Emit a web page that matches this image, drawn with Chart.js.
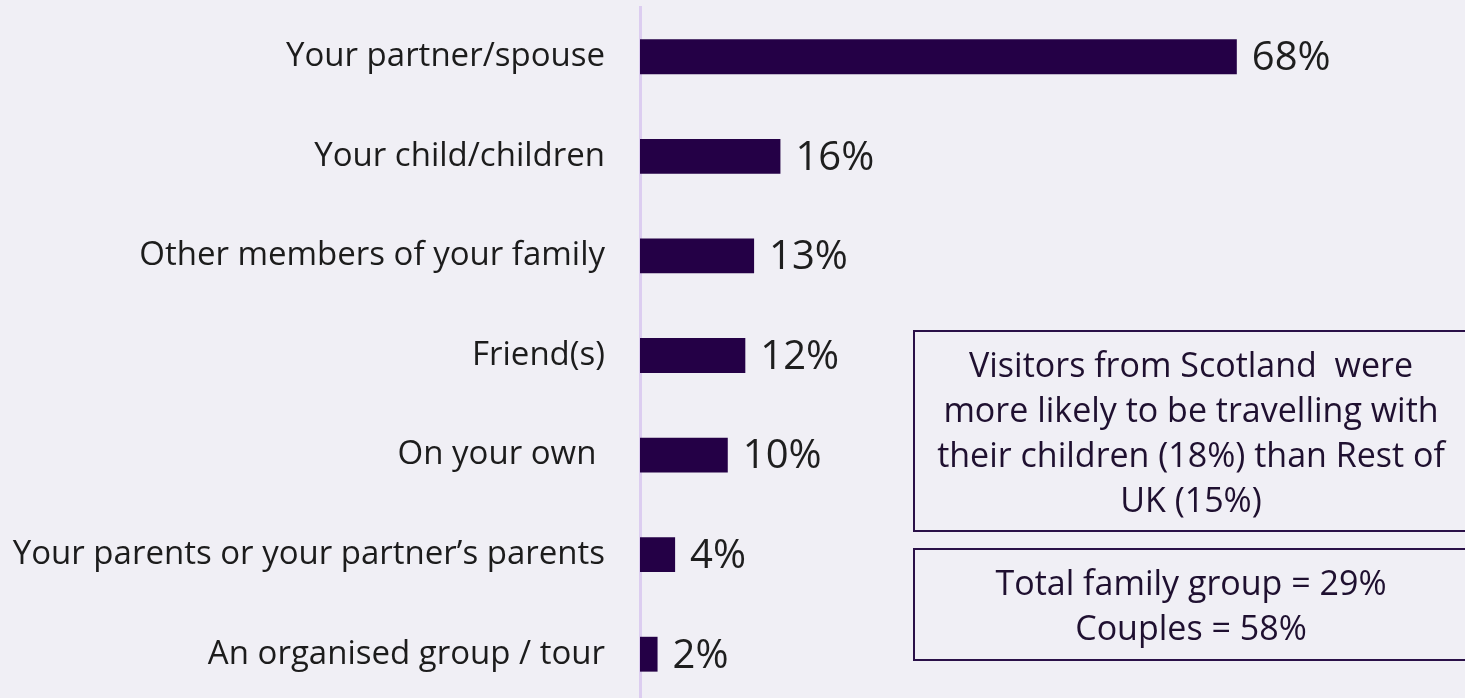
<!DOCTYPE html>
<html>
<head>
<meta charset="utf-8">
<script src="https://cdn.jsdelivr.net/npm/chart.js@4/dist/chart.umd.min.js"></script>
<style>
  html, body { margin: 0; padding: 0; background: #f0eff5; overflow: hidden; }
  #wrap { position: relative; width: 1465px; height: 704px; }
</style>
</head>
<body>
<div id="wrap"><canvas id="chart"></canvas></div>
<script>
// who visitors were travelling with (% of respondents)
const categories = [
  'Your partner/spouse',
  'Your child/children',
  'Other members of your family',
  'Friend(s)',
  'On your own ',
  'Your parents or your partner\u2019s parents',
  'An organised group / tour',
];
const shares = [68, 16, 13, 12, 10, 4, 2];

const noteScotland = [
  'Visitors from Scotland  were',
  'more likely to be travelling with',
  'their children (18%) than Rest of',
  'UK (15%)',
];
const noteTotals = ['Total family group = 29%', 'Couples = 58%'];

const FONT = '"Open Sans", "Noto Sans", sans-serif';
const barColor = '#240046';

const valueLabels = {
  id: 'valueLabels',
  afterDatasetsDraw(chart) {
    const { ctx } = chart;
    const meta = chart.getDatasetMeta(0);
    ctx.save();
    ctx.font = `40px ${FONT}`;
    ctx.fillStyle = '#1e1e1e';
    ctx.textAlign = 'left';
    ctx.textBaseline = 'middle';
    meta.data.forEach((bar, i) => {
      ctx.fillText(shares[i] + '%', bar.x + 15, bar.y + 2);
    });
    ctx.restore();
  },
};

function drawNote(ctx, box, lines, top, step) {
  ctx.strokeRect(box.x, box.y, box.w, box.h);
  lines.forEach((ln, i) => ctx.fillText(ln, box.x + box.w / 2 - 3, top + i * step));
}

const notes = {
  id: 'notes',
  afterDraw(chart) {
    const { ctx } = chart;
    ctx.save();
    ctx.strokeStyle = '#2a1048';
    ctx.lineWidth = 2;
    ctx.fillStyle = '#1f1030';
    ctx.font = `34px ${FONT}`;
    ctx.textAlign = 'center';
    ctx.textBaseline = 'middle';
    drawNote(ctx, { x: 914, y: 331, w: 560, h: 200 }, noteScotland, 367, 45);
    drawNote(ctx, { x: 914, y: 549, w: 560, h: 111 }, noteTotals, 585, 45);
    ctx.restore();
  },
};

new Chart(document.getElementById('chart'), {
  type: 'bar',
  data: {
    labels: categories,
    datasets: [{
      data: shares,
      backgroundColor: barColor,
      borderWidth: 0,
      barPercentage: 0.7,
      categoryPercentage: 0.5,
    }],
  },
  options: {
    indexAxis: 'y',
    responsive: true,
    maintainAspectRatio: false,
    animation: false,
    layout: { padding: { top: 7, right: 0, bottom: 0, left: 0 } },
    plugins: { legend: { display: false }, tooltip: { enabled: false } },
    scales: {
      x: {
        min: 0,
        max: 94,
        display: false,
      },
      y: {
        afterFit: s => { s.width = 640; s.paddingTop = 0; s.paddingBottom = 0; },
        grid: { display: false, drawTicks: false },
        border: { display: true, color: '#dccdf0', width: 3 },
        ticks: { color: '#1c1c1c', padding: 35, font: { family: FONT, size: 33 } },
      },
    },
  },
  plugins: [valueLabels, notes],
});
</script>
</body>
</html>
